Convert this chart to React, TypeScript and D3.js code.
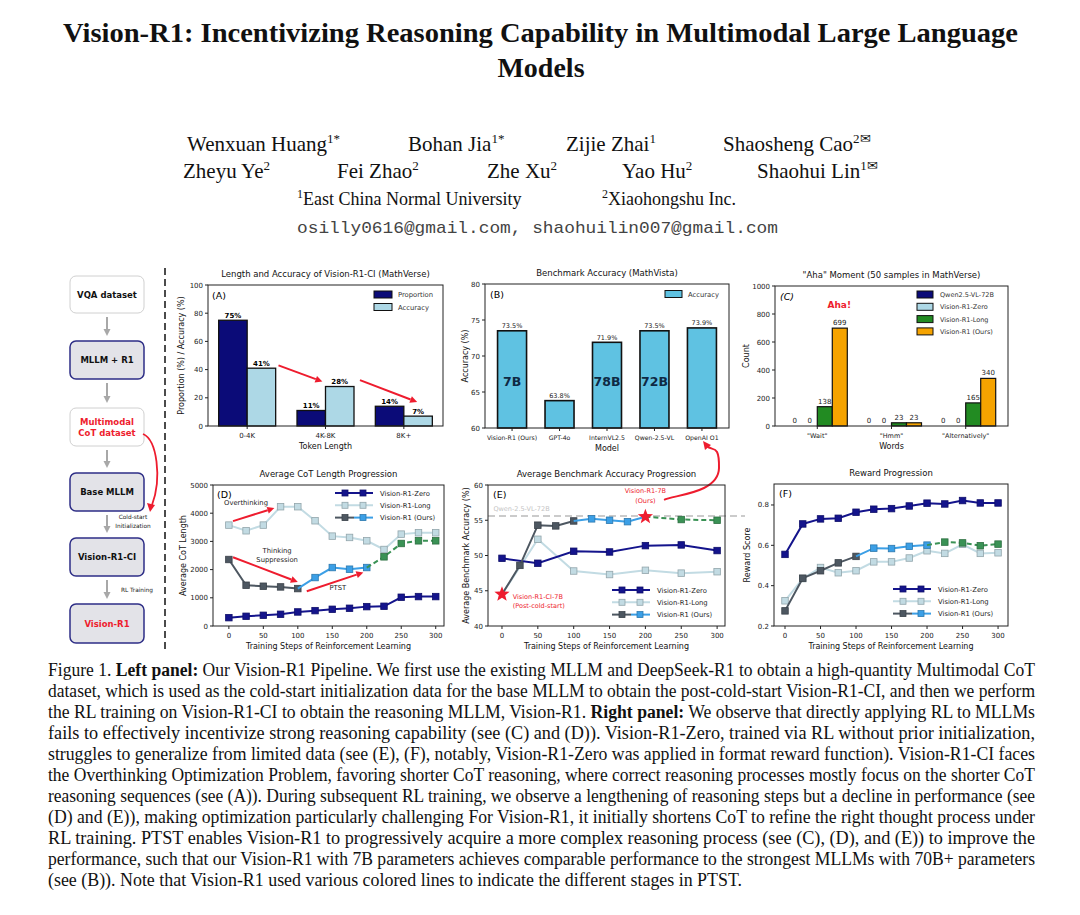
import React from 'react';
import * as d3 from 'd3';

// ---------- DATA ----------
const tokenCats = ['0-4K', '4K-8K', '8K+'];
const proportion = [75, 11, 14];
const accuracyA = [41, 28, 7];

const models = ['Vision-R1 (Ours)', 'GPT-4o', 'InternVL2.5', 'Qwen-2.5-VL', 'OpenAI O1'];
const modelAcc = [73.5, 63.8, 71.9, 73.5, 73.9];
const modelSize = ['7B', '', '78B', '72B', ''];

const words = ['"Wait"', '"Hmm"', '"Alternatively"'];
const ahaNames = ['Qwen2.5-VL-72B', 'Vision-R1-Zero', 'Vision-R1-Long', 'Vision-R1 (Ours)'];
const ahaQwen = [0, 0, 0];
const ahaZero = [0, 0, 0];
const ahaLong = [138, 23, 165];
const ahaOurs = [699, 23, 340];

const steps = [0, 25, 50, 75, 100, 125, 150, 175, 200, 225, 250, 275, 300];
const cotZero = [296, 344, 379, 415, 498, 545, 592, 628, 687, 699, 1019, 1043, 1043];
const cotLong = [3578, 3377, 3578, 4230, 4230, 3732, 3187, 3140, 3021, 2713, 3258, 3306, 3306];
const cotOurs = [2358, 1445, 1410, 1386, 1327, 1718, 2073, 2014, 2073, 2453, 2926, 3021, 3021];

const accSteps50 = [0, 50, 100, 150, 200, 250, 300];
const accZero = [49.6, 48.9, 50.6, 50.5, 51.4, 51.5, 50.7];
const accLong = [44.5, 52.3, 47.8, 47.3, 47.9, 47.5, 47.7];
const accOursSteps = [0, 25, 50, 75, 100, 125, 150, 175, 200, 250, 300];
const accOurs = [44.5, 48.6, 54.3, 54.2, 54.9, 55.2, 55.0, 54.8, 55.5, 55.1, 55.0];
const qwen72Ref = 55.6;

const rewZero = [0.555, 0.706, 0.731, 0.734, 0.764, 0.779, 0.782, 0.795, 0.809, 0.805, 0.822, 0.81, 0.81];
const rewLong = [0.325, 0.435, 0.49, 0.464, 0.474, 0.518, 0.518, 0.537, 0.573, 0.56, 0.605, 0.56, 0.563];
const rewOurs = [0.275, 0.437, 0.474, 0.513, 0.545, 0.586, 0.584, 0.595, 0.601, 0.616, 0.612, 0.598, 0.606];

const ticksA = [0, 20, 40, 60, 80, 100];
const ticksB = [60, 65, 70, 75, 80];
const ticksC = [0, 200, 400, 600, 800, 1000];
const ticksD = [0, 1000, 2000, 3000, 4000, 5000];
const ticksE = [40, 45, 50, 55, 60];
const ticksF = [0.2, 0.4, 0.6, 0.8];
const stepTicks = [0, 50, 100, 150, 200, 250, 300];

const captionLines = [
  ['Figure 1.  ', '*Left panel:', ' Our Vision-R1 Pipeline. We first use the existing MLLM and DeepSeek-R1 to obtain a high-quantity Multimodal CoT'],
  ['dataset, which is used as the cold-start initialization data for the base MLLM to obtain the post-cold-start Vision-R1-CI, and then we perform'],
  ['the RL training on Vision-R1-CI to obtain the reasoning MLLM, Vision-R1. ', '*Right panel:', ' We observe that directly applying RL to MLLMs'],
  ['fails to effectively incentivize strong reasoning capability (see (C) and (D)). Vision-R1-Zero, trained via RL without prior initialization,'],
  ['struggles to generalize from limited data (see (E), (F), notably, Vision-R1-Zero was applied in format reward function). Vision-R1-CI faces'],
  ['the Overthinking Optimization Problem, favoring shorter CoT reasoning, where correct reasoning processes mostly focus on the shorter CoT'],
  ['reasoning sequences (see (A)). During subsequent RL training, we observe a lengthening of reasoning steps but a decline in performance (see'],
  ['(D) and (E)), making optimization particularly challenging For Vision-R1, it initially shortens CoT to refine the right thought process under'],
  ['RL training. PTST enables Vision-R1 to progressively acquire a more complex reasoning process (see (C), (D), and (E)) to improve the'],
  ['performance, such that our Vision-R1 with 7B parameters achieves comparable performance to the strongest MLLMs with 70B+ parameters'],
  ['(see (B)). Note that Vision-R1 used various colored lines to indicate the different stages in PTST.'],
];

// ---------- STYLE ----------
const F = "'DejaVu Sans', 'Noto Sans', sans-serif";
const SERIF = "'Liberation Serif', 'Times New Roman', serif";
const NAVY = '#14148c';
const LIGHT = '#add8e6';
const LONGC = '#c2dbe3';
const GRAY = '#4d5761';
const BLUE = '#3b9fe6';
const GREEN = '#3a9255';
const RED = '#ee1c2e';

type Box = { x0: number; x1: number; y0: number; y1: number };

function Frame({ b }: { b: Box }) {
  return <rect x={b.x0} y={b.y0} width={b.x1 - b.x0} height={b.y1 - b.y0} fill="none" stroke="#222" strokeWidth={1} />;
}

function YAxis({ b, scale, ticks, fmt }: { b: Box; scale: any; ticks: number[]; fmt?: (v: number) => string }) {
  return (
    <g>
      {ticks.map((t) => (
        <g key={t}>
          <line x1={b.x0 - 3} x2={b.x0} y1={scale(t)} y2={scale(t)} stroke="#222" />
          <text x={b.x0 - 5} y={scale(t) + 2.5} fontSize={7} textAnchor="end" fontFamily={F} fill="#222">
            {fmt ? fmt(t) : t}
          </text>
        </g>
      ))}
    </g>
  );
}

function XAxis({ b, pos, labels, fs = 7 }: { b: Box; pos: number[]; labels: string[]; fs?: number }) {
  return (
    <g>
      {pos.map((p, i) => (
        <g key={i}>
          <line x1={p} x2={p} y1={b.y1} y2={b.y1 + 3} stroke="#222" />
          <text x={p} y={b.y1 + 12} fontSize={fs} textAnchor="middle" fontFamily={F} fill="#222">
            {labels[i]}
          </text>
        </g>
      ))}
    </g>
  );
}

function Titles({ b, title, xl, yl, ylx }: { b: Box; title: string; xl: string; yl: string; ylx: number }) {
  const cx = (b.x0 + b.x1) / 2;
  const cy = (b.y0 + b.y1) / 2;
  return (
    <g fontFamily={F} fill="#111">
      <text x={cx} y={b.y0 - 8} fontSize={8.5} textAnchor="middle">{title}</text>
      <text x={cx} y={b.y1 + 23} fontSize={8} textAnchor="middle">{xl}</text>
      <text transform={`translate(${ylx},${cy}) rotate(-90)`} fontSize={8} textAnchor="middle">{yl}</text>
    </g>
  );
}

function Arrow({ x1, y1, x2, y2, color = RED, w = 2 }: any) {
  const a = Math.atan2(y2 - y1, x2 - x1);
  const L = 7, W = 3.5;
  const bx = x2 - L * Math.cos(a), by = y2 - L * Math.sin(a);
  const p = `${x2},${y2} ${bx + W * Math.sin(a)},${by - W * Math.cos(a)} ${bx - W * Math.sin(a)},${by + W * Math.cos(a)}`;
  return (
    <g>
      <line x1={x1} y1={y1} x2={bx} y2={by} stroke={color} strokeWidth={w} />
      <polygon points={p} fill={color} />
    </g>
  );
}

function Marker({ x, y, color, size = 6.5, stroke }: any) {
  return <rect x={x - size / 2} y={y - size / 2} width={size} height={size} fill={color} stroke={stroke || d3.color(color)!.darker(0.8).toString()} strokeWidth={0.8} />;
}

function Series({ xs, ys, xS, yS, color, from = 0, to, dash, markers = true, mcolor, lw = 2, skipMarkers = [] as number[] }: any) {
  const end = to === undefined ? xs.length - 1 : to;
  const idx = d3.range(from, end + 1);
  const line = d3.line<number>().x((i) => xS(xs[i])).y((i) => yS(ys[i]));
  return (
    <g>
      <path d={line(idx) || ''} fill="none" stroke={color} strokeWidth={lw} strokeDasharray={dash} />
      {markers && idx.filter((i) => !skipMarkers.includes(i)).map((i) => <Marker key={i} x={xS(xs[i])} y={yS(ys[i])} color={mcolor || color} />)}
    </g>
  );
}

function Star({ x, y, r = 7, color = RED }: any) {
  const pts = d3.range(10).map((k) => {
    const ang = -Math.PI / 2 + (k * Math.PI) / 5;
    const rr = k % 2 === 0 ? r : r * 0.42;
    return `${x + rr * Math.cos(ang)},${y + rr * Math.sin(ang)}`;
  });
  return <polygon points={pts.join(' ')} fill={color} />;
}

function LineLegend({ x, y, items }: { x: number; y: number; items: any[] }) {
  return (
    <g fontFamily={F} fontSize={6.8} fill="#222">
      {items.map((it, i) => {
        const yy = y + i * 12.3;
        return (
          <g key={i}>
            {it.kind === 'ours' ? (
              <g>
                <line x1={x} x2={x + 19} y1={yy} y2={yy} stroke={GRAY} strokeWidth={2} />
                <line x1={x + 19} x2={x + 38} y1={yy} y2={yy} stroke={BLUE} strokeWidth={2} />
                <Marker x={x + 10} y={yy} color={GRAY} size={6} />
                <Marker x={x + 28} y={yy} color={BLUE} size={6} />
              </g>
            ) : (
              <g>
                <line x1={x} x2={x + 38} y1={yy} y2={yy} stroke={it.color} strokeWidth={2} />
                <Marker x={x + 10} y={yy} color={it.color} size={6} />
                <Marker x={x + 28} y={yy} color={it.color} size={6} />
              </g>
            )}
            <text x={x + 45} y={yy + 2.5}>{it.label}</text>
          </g>
        );
      })}
    </g>
  );
}

// ---------- PANELS ----------
function PanelA() {
  const b: Box = { x0: 208, x1: 443, y0: 285, y1: 426 };
  const x = d3.scalePoint<string>().domain(tokenCats).range([b.x0, b.x1]).padding(0.5);
  const y = d3.scaleLinear().domain([0, 100]).range([b.y1, b.y0]);
  const bw = 28.5;
  const xi = d3.scaleLinear().domain([0, 2]).range([x(tokenCats[0])!, x(tokenCats[2])!]);
  return (
    <g>
      {tokenCats.map((c, i) => (
        <g key={c}>
          <rect x={x(c)! - bw} y={y(proportion[i])} width={bw} height={b.y1 - y(proportion[i])} fill="#0b0b78" stroke="#111" strokeWidth={1.3} />
          <rect x={x(c)!} y={y(accuracyA[i])} width={bw} height={b.y1 - y(accuracyA[i])} fill={LIGHT} stroke="#111" strokeWidth={1.3} />
          <text x={x(c)! - bw / 2} y={y(proportion[i]) - 2.5} fontSize={7} fontWeight="bold" textAnchor="middle" fontFamily={F}>{proportion[i]}%</text>
          <text x={x(c)! + bw / 2} y={y(accuracyA[i]) - 2.5} fontSize={7} fontWeight="bold" textAnchor="middle" fontFamily={F}>{accuracyA[i]}%</text>
        </g>
      ))}
      <Arrow x1={xi(0.4)} y1={y(43)} x2={xi(0.96)} y2={y(31.5)} />
      <Arrow x1={xi(1.44)} y1={y(32.5)} x2={xi(2.17)} y2={y(17)} />
      <Frame b={b} />
      <YAxis b={b} scale={y} ticks={ticksA} />
      <XAxis b={b} pos={tokenCats.map((c) => x(c)!)} labels={tokenCats} />
      <Titles b={b} title="Length and Accuracy of Vision-R1-CI (MathVerse)" xl="Token Length" yl="Proportion (%) / Accuracy (%)" ylx={184} />
      <text x={b.x0 + 4} y={b.y0 + 14} fontSize={9.5} fontFamily={F}>(A)</text>
      <g fontFamily={F} fontSize={6.8} fill="#333">
        <rect x={374} y={291} width={18} height={7} fill="#0b0b78" stroke="#111" />
        <text x={398} y={297}>Proportion</text>
        <rect x={374} y={303.5} width={18} height={7} fill={LIGHT} stroke="#111" />
        <text x={398} y={309.5}>Accuracy</text>
      </g>
    </g>
  );
}

function PanelB() {
  const b: Box = { x0: 485, x1: 729, y0: 284, y1: 428 };
  const x = d3.scalePoint<string>().domain(models).range([b.x0, b.x1]).padding(0.57);
  const y = d3.scaleLinear().domain([60, 80]).range([b.y1, b.y0]);
  const bw = 29;
  return (
    <g>
      {models.map((m, i) => (
        <g key={m}>
          <rect x={x(m)! - bw / 2} y={y(modelAcc[i])} width={bw} height={b.y1 - y(modelAcc[i])} fill="#5fc2e2" stroke="#111" strokeWidth={1.6} />
          <text x={x(m)!} y={y(modelAcc[i]) - 2.5} fontSize={6.5} textAnchor="middle" fontFamily={F} fill="#222">{modelAcc[i].toFixed(1)}%</text>
          {modelSize[i] && (
            <text x={x(m)!} y={y(66.5) + 4.5} fontSize={12.5} fontWeight="bold" textAnchor="middle" fontFamily={F} fill="#0f2a44">{modelSize[i]}</text>
          )}
        </g>
      ))}
      <Frame b={b} />
      <YAxis b={b} scale={y} ticks={ticksB} />
      <XAxis b={b} pos={models.map((m) => x(m)!)} labels={models} fs={6.2} />
      <Titles b={b} title="Benchmark Accuracy (MathVista)" xl="Model" yl="Accuracy (%)" ylx={468} />
      <text x={b.x0 + 5} y={b.y0 + 14} fontSize={9.5} fontFamily={F}>(B)</text>
      <rect x={665} y={290.5} width={17} height={7} fill="#5fc2e2" stroke="#111" />
      <text x={688} y={297} fontSize={6.8} fontFamily={F} fill="#333">Accuracy</text>
    </g>
  );
}

function PanelC() {
  const b: Box = { x0: 775, x1: 1008, y0: 286, y1: 426 };
  const x = d3.scalePoint<string>().domain(words).range([b.x0, b.x1]).padding(0.57);
  const y = d3.scaleLinear().domain([0, 1000]).range([b.y1, b.y0]);
  const bw = 15;
  const series = [ahaQwen, ahaZero, ahaLong, ahaOurs];
  const colors = ['#0b0b78', LIGHT, '#228b22', '#f5a300'];
  return (
    <g>
      {words.map((w, gi) => (
        <g key={w}>
          {series.map((s, si) => {
            const cx = x(w)! + (si - 1.5) * bw;
            const v = s[gi];
            return (
              <g key={si}>
                {v > 0 && <rect x={cx - bw / 2} y={y(v)} width={bw} height={b.y1 - y(v)} fill={colors[si]} stroke="#111" strokeWidth={1.2} />}
                <text x={cx} y={y(v) - 3} fontSize={7} textAnchor="middle" fontFamily={F} fill="#222">{v}</text>
              </g>
            );
          })}
        </g>
      ))}
      <Frame b={b} />
      <YAxis b={b} scale={y} ticks={ticksC} />
      <XAxis b={b} pos={words.map((w) => x(w)!)} labels={words} fs={6.5} />
      <Titles b={b} title={'"Aha" Moment (50 samples in MathVerse)'} xl="Words" yl="Count" ylx={749} />
      <text x={b.x0 + 5} y={b.y0 + 14} fontSize={9.5} fontStyle="italic" fontFamily={F}>(C)</text>
      <text x={x(words[0])! + 22} y={y(845)} fontSize={9} fontWeight="bold" fill={RED} textAnchor="middle" fontFamily={F}>Aha!</text>
      <g fontFamily={F} fontSize={6.5} fill="#333">
        {ahaNames.map((n, i) => (
          <g key={n}>
            <rect x={917} y={291 + i * 12.3} width={16} height={7} fill={colors[i]} stroke="#111" />
            <text x={940} y={297 + i * 12.3}>{n}</text>
          </g>
        ))}
      </g>
    </g>
  );
}

function PanelD() {
  const b: Box = { x0: 213, x1: 444, y0: 485, y1: 626 };
  const x = d3.scaleLinear().domain([-23, 312]).range([b.x0, b.x1]);
  const y = d3.scaleLinear().domain([0, 5000]).range([b.y1, b.y0]);
  return (
    <g>
      <Series xs={steps} ys={cotLong} xS={x} yS={y} color={LONGC} />
      <Series xs={steps} ys={cotZero} xS={x} yS={y} color={NAVY} />
      <Series xs={steps} ys={cotOurs} xS={x} yS={y} color={GRAY} from={0} to={4} />
      <Series xs={steps} ys={cotOurs} xS={x} yS={y} color={BLUE} from={4} to={8} skipMarkers={[4]} />
      <Series xs={steps} ys={cotOurs} xS={x} yS={y} color={GREEN} from={8} to={12} dash="5,3" skipMarkers={[8]} />
      <Arrow x1={x(6)} y1={y(3720)} x2={x(66)} y2={y(4180)} />
      <Arrow x1={x(6)} y1={y(2440)} x2={x(100)} y2={y(1560)} />
      <Arrow x1={x(113)} y1={y(1230)} x2={x(195)} y2={y(1900)} />
      <g fontFamily={F} fontSize={6.8} fill="#222">
        <text x={x(-7)} y={y(4300)}>Overthinking</text>
        <text x={x(70)} y={y(2600)} textAnchor="middle">Thinking</text>
        <text x={x(70)} y={y(2270)} textAnchor="middle">Suppression</text>
        <text x={x(158)} y={y(1280)} textAnchor="middle">PTST</text>
      </g>
      <Frame b={b} />
      <YAxis b={b} scale={y} ticks={ticksD} />
      <XAxis b={b} pos={stepTicks.map((s) => x(s))} labels={stepTicks.map(String)} />
      <Titles b={b} title="Average CoT Length Progression" xl="Training Steps of Reinforcement Learning" yl="Average CoT Length" ylx={186} />
      <text x={b.x0 + 4} y={b.y0 + 13} fontSize={9.5} fontFamily={F}>(D)</text>
      <LineLegend x={335} y={493} items={[{ color: NAVY, label: 'Vision-R1-Zero' }, { color: LONGC, label: 'Vision-R1-Long' }, { kind: 'ours', label: 'Vision-R1 (Ours)' }]} />
    </g>
  );
}

function PanelE() {
  const b: Box = { x0: 488, x1: 725, y0: 485, y1: 626 };
  const x = d3.scaleLinear().domain([-19.5, 311]).range([b.x0, b.x1]);
  const y = d3.scaleLinear().domain([40, 60]).range([b.y1, b.y0]);
  return (
    <g>
      <line x1={b.x0} x2={b.x1 + 20} y1={y(qwen72Ref)} y2={y(qwen72Ref)} stroke="#bbb" strokeWidth={1.5} strokeDasharray="7,4" />
      <text x={x(-12)} y={y(56.35)} fontSize={6.5} fill="#c4c4c4" fontFamily={F}>Qwen-2.5-VL-72B</text>
      <Series xs={accSteps50} ys={accLong} xS={x} yS={y} color={LONGC} skipMarkers={[0]} />
      <Series xs={accSteps50} ys={accZero} xS={x} yS={y} color={NAVY} />
      <Series xs={accOursSteps} ys={accOurs} xS={x} yS={y} color={GRAY} from={0} to={4} skipMarkers={[0]} />
      <Series xs={accOursSteps} ys={accOurs} xS={x} yS={y} color={BLUE} from={4} to={8} skipMarkers={[4, 8]} />
      <Series xs={accOursSteps} ys={accOurs} xS={x} yS={y} color={GREEN} from={8} to={10} dash="5,3" skipMarkers={[8]} />
      <Star x={x(accOursSteps[0])} y={y(accOurs[0])} r={8} />
      <Star x={x(accOursSteps[8])} y={y(accOurs[8])} r={8} />
      <g fontFamily={F} fontSize={6.5} fill={RED}>
        <text x={x(200)} y={y(58.9)} textAnchor="middle">Vision-R1-7B</text>
        <text x={x(200)} y={y(57.5)} textAnchor="middle">(Ours)</text>
        <text x={x(15)} y={y(43.9)}>Vision-R1-CI-7B</text>
        <text x={x(15)} y={y(42.6)}>(Post-cold-start)</text>
      </g>
      <path d={`M${x(226)},${y(57.9)} C${x(240)},${y(58.6)} ${x(302)},${y(58.8)} 719,468 S712,452 707,446`} fill="none" stroke={RED} strokeWidth={2} />
      <polygon points="703,441 711,445 705,450" fill={RED} />
      <Frame b={b} />
      <YAxis b={b} scale={y} ticks={ticksE} />
      <XAxis b={b} pos={stepTicks.map((s) => x(s))} labels={stepTicks.map(String)} />
      <Titles b={b} title="Average Benchmark Accuracy Progression" xl="Training Steps of Reinforcement Learning" yl="Average Benchmark Accuracy (%)" ylx={469} />
      <text x={b.x0 + 5} y={b.y0 + 13} fontSize={9.5} fontFamily={F}>(E)</text>
      <LineLegend x={612} y={590} items={[{ color: NAVY, label: 'Vision-R1-Zero' }, { color: LONGC, label: 'Vision-R1-Long' }, { kind: 'ours', label: 'Vision-R1 (Ours)' }]} />
    </g>
  );
}

function PanelF() {
  const b: Box = { x0: 774, x1: 1008, y0: 484, y1: 626 };
  const x = d3.scaleLinear().domain([-15.5, 314]).range([b.x0, b.x1]);
  const y = d3.scaleLinear().domain([0.2, 0.904]).range([b.y1, b.y0]);
  return (
    <g>
      <Series xs={steps} ys={rewLong} xS={x} yS={y} color={LONGC} />
      <Series xs={steps} ys={rewZero} xS={x} yS={y} color={NAVY} />
      <Series xs={steps} ys={rewOurs} xS={x} yS={y} color={GRAY} from={0} to={4} />
      <Series xs={steps} ys={rewOurs} xS={x} yS={y} color={BLUE} from={4} to={8} skipMarkers={[4]} />
      <Series xs={steps} ys={rewOurs} xS={x} yS={y} color={GREEN} from={8} to={12} dash="5,3" skipMarkers={[8]} />
      <Frame b={b} />
      <YAxis b={b} scale={y} ticks={ticksF} fmt={(v) => v.toFixed(1)} />
      <XAxis b={b} pos={stepTicks.map((s) => x(s))} labels={stepTicks.map(String)} />
      <Titles b={b} title="Reward Progression" xl="Training Steps of Reinforcement Learning" yl="Reward Score" ylx={750} />
      <text x={b.x0 + 5} y={b.y0 + 13} fontSize={9.5} fontFamily={F}>(F)</text>
      <LineLegend x={893} y={589} items={[{ color: NAVY, label: 'Vision-R1-Zero' }, { color: LONGC, label: 'Vision-R1-Long' }, { kind: 'ours', label: 'Vision-R1 (Ours)' }]} />
    </g>
  );
}

function Pipeline() {
  const boxes = [
    { y0: 276, y1: 313, lines: ['VQA dataset'], gray: false, red: false },
    { y0: 341, y1: 379, lines: ['MLLM + R1'], gray: true, red: false },
    { y0: 408, y1: 446, lines: ['Multimodal', 'CoT dataset'], gray: false, red: true },
    { y0: 473, y1: 511, lines: ['Base MLLM'], gray: true, red: false },
    { y0: 538, y1: 576, lines: ['Vision-R1-CI'], gray: true, red: false },
    { y0: 604, y1: 643, lines: ['Vision-R1'], gray: true, red: true },
  ];
  const x0 = 70, x1 = 144, cx = 107;
  return (
    <g fontFamily={F}>
      {boxes.map((bx, i) => (
        <g key={i}>
          <rect x={x0} y={bx.y0} width={x1 - x0} height={bx.y1 - bx.y0} rx={6} fill={bx.gray ? '#e3e3e8' : '#fff'} stroke={bx.gray ? '#2e2e86' : '#d0d0d0'} strokeWidth={bx.gray ? 1.5 : 1} />
          {bx.lines.map((l, k) => (
            <text key={k} x={cx} y={(bx.y0 + bx.y1) / 2 + 3 + (k - (bx.lines.length - 1) / 2) * 11} fontSize={8.5} fontWeight="bold" textAnchor="middle" fill={bx.red ? RED : '#111'}>{l}</text>
          ))}
          {i < boxes.length - 1 && (
            <Arrow x1={cx} y1={bx.y1 + 4} x2={cx} y2={boxes[i + 1].y0 - 5} color="#a8a8a8" w={2} />
          )}
        </g>
      ))}
      <text x={133} y={519} fontSize={5.8} textAnchor="middle" fill="#222">Cold-start</text>
      <text x={133} y={528} fontSize={5.8} textAnchor="middle" fill="#222">Initialization</text>
      <text x={137} y={592} fontSize={5.8} textAnchor="middle" fill="#222">RL Training</text>
      <path d="M143,434 C157,440 162,478 152,505" fill="none" stroke={RED} strokeWidth={1.8} />
      <polygon points="147,503 155,505 150,512" fill={RED} />
      <line x1={165} x2={165} y1={268} y2={652} stroke="#111" strokeWidth={1.5} strokeDasharray="7,4" />
    </g>
  );
}

function Header() {
  const authors1 = [
    { n: 'Wenxuan Huang', s: '1*', x: 187 },
    { n: 'Bohan Jia', s: '1*', x: 408 },
    { n: 'Zijie Zhai', s: '1', x: 566 },
    { n: 'Shaosheng Cao', s: '2✉', x: 723 },
  ];
  const authors2 = [
    { n: 'Zheyu Ye', s: '2', x: 183 },
    { n: 'Fei Zhao', s: '2', x: 337 },
    { n: 'Zhe Xu', s: '2', x: 487 },
    { n: 'Yao Hu', s: '2', x: 622 },
    { n: 'Shaohui Lin', s: '1✉', x: 757 },
  ];
  const au = (a: any, y: number) => (
    <text key={a.n} x={a.x} y={y} fontSize={21} fontFamily={SERIF} fill="#111">
      {a.n}
      <tspan fontSize={13} dy={-8}>{a.s}</tspan>
    </text>
  );
  return (
    <g>
      <text x={63} y={42} fontSize={28} fontWeight="bold" fontFamily={SERIF} textLength={955} lengthAdjust="spacingAndGlyphs" fill="#111">
        Vision-R1: Incentivizing Reasoning Capability in Multimodal Large Language
      </text>
      <text x={541} y={77} fontSize={28} fontWeight="bold" fontFamily={SERIF} textAnchor="middle" fill="#111">Models</text>
      {authors1.map((a) => au(a, 151))}
      {authors2.map((a) => au(a, 178))}
      <text x={297} y={205} fontSize={18} fontFamily={SERIF} fill="#111">
        <tspan fontSize={12} dy={-7}>1</tspan>
        <tspan dy={7}>East China Normal University</tspan>
      </text>
      <text x={602} y={205} fontSize={18} fontFamily={SERIF} fill="#111">
        <tspan fontSize={12} dy={-7}>2</tspan>
        <tspan dy={7}>Xiaohongshu Inc.</tspan>
      </text>
      <text x={297} y={233} fontSize={17} fontFamily="'Liberation Mono', 'DejaVu Sans Mono', monospace" fill="#444" textLength={481} lengthAdjust="spacingAndGlyphs">
        osilly0616@gmail.com, shaohuilin007@gmail.com
      </text>
    </g>
  );
}

function Caption() {
  return (
    <g fontFamily={SERIF} fontSize={18} fill="#111">
      {captionLines.map((parts, i) => {
        const last = i === captionLines.length - 1;
        return (
          <text key={i} x={48} y={676 + i * 21} textLength={last ? 694 : 987} lengthAdjust="spacingAndGlyphs">
            {parts.map((p, k) =>
              p.startsWith('*') ? (
                <tspan key={k} fontWeight="bold">{p.slice(1)}</tspan>
              ) : (
                <tspan key={k}>{p}</tspan>
              )
            )}
          </text>
        );
      })}
    </g>
  );
}

export default function App() {
  return (
    <svg width={1080} height={915} viewBox="0 0 1080 915" style={{ position: 'absolute', left: 0, top: 0, background: '#fff' }}>
      <rect width={1080} height={915} fill="#fff" />
      <Header />
      <Pipeline />
      <PanelA />
      <PanelB />
      <PanelC />
      <PanelD />
      <PanelE />
      <PanelF />
      <Caption />
    </svg>
  );
}
